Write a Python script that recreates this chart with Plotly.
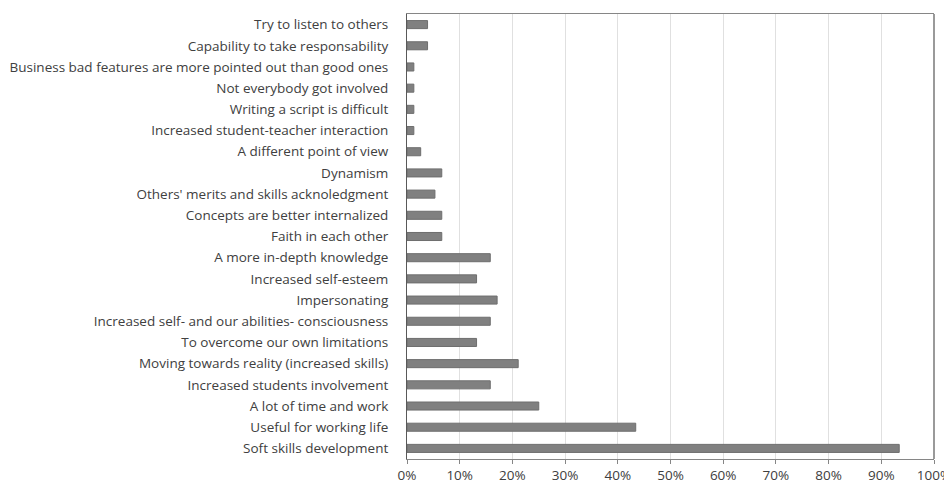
import plotly.graph_objects as go

categories = [
    "Try to listen to others",
    "Capability to take responsability",
    "Business bad features are more pointed out than good ones",
    "Not everybody got involved",
    "Writing a script is difficult",
    "Increased student-teacher interaction",
    "A different point of view",
    "Dynamism",
    "Others' merits and skills acknoledgment",
    "Concepts are better internalized",
    "Faith in each other",
    "A more in-depth knowledge",
    "Increased self-esteem",
    "Impersonating",
    "Increased self- and our abilities- consciousness",
    "To overcome our own limitations",
    "Moving towards reality (increased skills)",
    "Increased students involvement",
    "A lot of time and work",
    "Useful for working life",
    "Soft skills development",
]
values = [3.9, 3.9, 1.3, 1.3, 1.3, 1.3, 2.6, 6.6, 5.3, 6.6, 6.6,
          15.8, 13.2, 17.1, 15.8, 13.2, 21.1, 15.8, 25.0, 43.4, 93.4]
x_ticks = [0, 10, 20, 30, 40, 50, 60, 70, 80, 90, 100]
x_tick_labels = [f"{t}%" for t in x_ticks]

fig = go.Figure(go.Bar(
    x=values, y=categories, orientation="h",
    marker=dict(color="#808080", line=dict(color="#6e6e6e", width=1)),
    hoverinfo="x+y",
))

fig.update_layout(
    width=944, height=475,
    margin=dict(l=399, r=18, t=6, b=24),
    paper_bgcolor="white", plot_bgcolor="white",
    bargap=0.62,
    showlegend=False,
    font=dict(family="Open Sans", size=13.5, color="#404040"),
    shapes=[dict(type="line", xref="paper", yref="paper", x0=1, x1=1, y0=0, y1=1,
                 line=dict(color="#9a9a9a", width=2))],
)
fig.update_xaxes(
    range=[0, 100], tickvals=x_ticks, ticktext=x_tick_labels,
    showgrid=True, gridcolor="#e0e0e0", gridwidth=1,
    showline=True, linecolor="#868686", linewidth=1, mirror=True,
    ticks="outside", ticklen=4, tickcolor="#868686",
    zeroline=False, fixedrange=True, automargin=False,
)
fig.update_yaxes(
    autorange="reversed",
    showgrid=False, showline=True, linecolor="#595959", linewidth=1,
    ticks="", ticklabelstandoff=15,
    zeroline=False, fixedrange=True, automargin=False,
)

fig.write_html("out.html")
